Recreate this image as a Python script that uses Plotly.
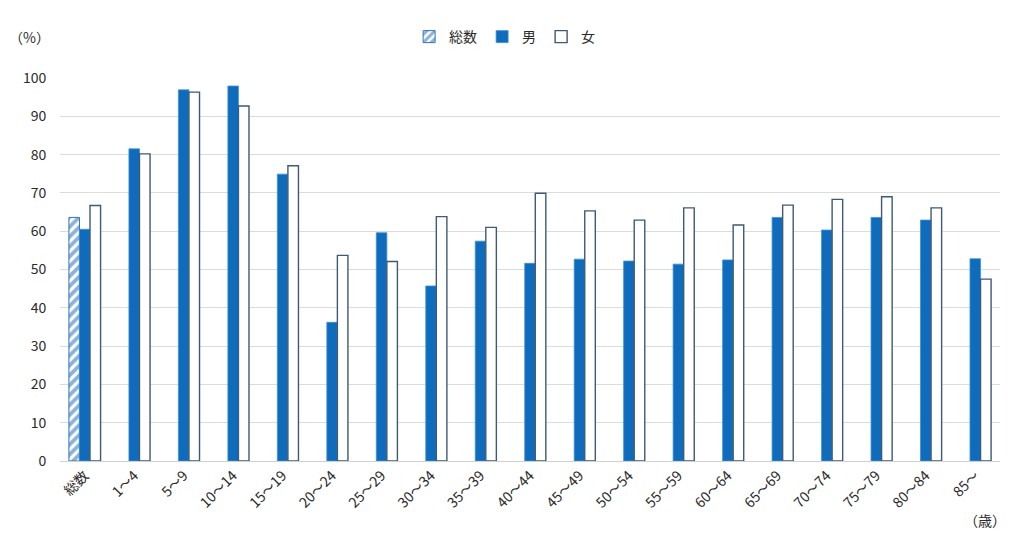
import plotly.graph_objects as go

categories = ["総数", "1～4", "5～9", "10～14", "15～19", "20～24", "25～29", "30～34",
              "35～39", "40～44", "45～49", "50～54", "55～59", "60～64", "65～69",
              "70～74", "75～79", "80～84", "85～"]
total = [63.6] + [None] * 18
male = [60.5, 81.5, 96.9, 97.9, 74.9, 36.2, 59.6, 45.7, 57.4, 51.6, 52.7, 52.2,
        51.4, 52.5, 63.6, 60.3, 63.6, 62.9, 52.8]
female = [66.7, 80.2, 96.3, 92.7, 77.1, 53.7, 52.1, 63.8, 61.0, 69.9, 65.3, 62.9,
          66.1, 61.6, 66.8, 68.3, 69.0, 66.1, 47.5]
y_ticks = [0, 10, 20, 30, 40, 50, 60, 70, 80, 90, 100]

FONT = "Noto Sans CJK JP"
TXT = "#2a2a2a"
fig = go.Figure()
fig.add_trace(go.Bar(
    name="総数", x=categories, y=total,
    marker=dict(color="white", line=dict(color="#2e75b6", width=1),
                pattern=dict(shape="/", fgcolor="#1c64b0", bgcolor="white",
                             size=7, solidity=0.55)),
))
fig.add_trace(go.Bar(
    name="男", x=categories, y=male,
    marker=dict(color="#0f6cbd", line=dict(color="#3d8fd6", width=0.8)),
))
fig.add_trace(go.Bar(
    name="女", x=categories, y=female,
    marker=dict(color="white", line=dict(color="#3f5a74", width=1.4)),
))

fig.update_layout(
    width=1017, height=533,
    margin=dict(l=60, r=17, t=78, b=72),
    paper_bgcolor="white", plot_bgcolor="white",
    barmode="group", bargap=0.36, bargroupgap=0,
    font=dict(family=FONT, size=14, color=TXT),
    showlegend=True,
    legend=dict(orientation="h", x=0.473, xanchor="center", y=1.107, yanchor="middle",
                font=dict(family=FONT, size=14, color=TXT),
                itemwidth=30, traceorder="normal"),
    xaxis=dict(type="category", tickangle=-45, showgrid=False,
               showline=True, linecolor="#d0d0d0", linewidth=1,
               tickfont=dict(family=FONT, size=14, color=TXT),
               ticks="", fixedrange=True),
    yaxis=dict(range=[0, 100], tickvals=y_ticks, showgrid=True,
               gridcolor="#dcdcdc", gridwidth=1, zeroline=False,
               showline=False, ticks="outside", ticklen=10, tickcolor="white",
               tickfont=dict(family=FONT, size=14, color=TXT)),
    annotations=[
        dict(text="（%）", xref="paper", yref="paper", x=-0.032, y=1.107,
             showarrow=False, xanchor="center", yanchor="middle",
             font=dict(family=FONT, size=14, color=TXT)),
        dict(text="（歳）", xref="paper", yref="paper", x=0.984, y=-0.154,
             showarrow=False, xanchor="center", yanchor="middle",
             font=dict(family=FONT, size=14, color=TXT)),
    ],
)

fig.write_html("out.html")
